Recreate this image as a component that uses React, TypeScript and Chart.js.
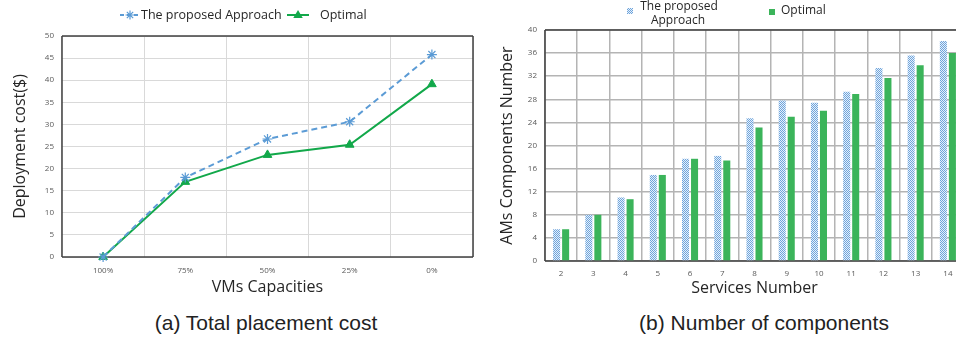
import React, { useEffect, useRef } from "react";
import { Chart, registerables } from "chart.js";

Chart.register(...registerables);

// ---------- Data ----------
const capacityLabels = ["100%", "75%", "50%", "25%", "0%"];
const proposedCost = [0, 18.0, 26.7, 30.6, 45.8];
const optimalCost = [0, 17.0, 23.1, 25.4, 39.1];

const serviceLabels = ["2", "3", "4", "5", "6", "7", "8", "9", "10", "11", "12", "13", "14"];
const proposedComponents = [5.5, 8.0, 11.0, 14.9, 17.7, 18.2, 24.7, 27.8, 27.4, 29.3, 33.4, 35.6, 38.1];
const optimalComponents = [5.5, 8.0, 10.7, 14.9, 17.7, 17.4, 23.1, 25.0, 26.0, 28.9, 31.7, 33.9, 36.0];

const seriesProposed = "The proposed Approach";
const seriesProposedLines = ["The proposed", "Approach"];
const seriesOptimal = "Optimal";

const captionA = "(a) Total placement cost";
const captionB = "(b) Number of components";

// ---------- Styles ----------
const BLUE = "#5b9bd5";
const GREEN_LINE = "#12a84a";
const GREEN_BAR = "#3bb45a";
const TICK_COLOR = "#595959";
const TITLE_COLOR = "#262626";
const FONT = "'Open Sans', 'Liberation Sans', sans-serif";

function drawStar(ctx: CanvasRenderingContext2D, x: number, y: number, r: number, color: string) {
  ctx.save();
  ctx.strokeStyle = color;
  ctx.lineWidth = 1.2;
  ctx.setLineDash([]);
  ctx.beginPath();
  ctx.moveTo(x - r, y); ctx.lineTo(x + r, y);
  ctx.moveTo(x, y - r); ctx.lineTo(x, y + r);
  const d = r * 0.7071;
  ctx.moveTo(x - d, y - d); ctx.lineTo(x + d, y + d);
  ctx.moveTo(x - d, y + d); ctx.lineTo(x + d, y - d);
  ctx.stroke();
  ctx.restore();
}

function drawTriangle(ctx: CanvasRenderingContext2D, x: number, y: number, r: number, color: string) {
  ctx.save();
  ctx.fillStyle = color;
  ctx.beginPath();
  ctx.moveTo(x, y - r);
  ctx.lineTo(x + r * 0.95, y + r * 0.6);
  ctx.lineTo(x - r * 0.95, y + r * 0.6);
  ctx.closePath();
  ctx.fill();
  ctx.restore();
}

function makePattern(): CanvasPattern | string {
  const c = document.createElement("canvas");
  c.width = 2;
  c.height = 2;
  const g = c.getContext("2d");
  if (!g) return BLUE;
  g.fillStyle = "#e6f0fa";
  g.fillRect(0, 0, 2, 2);
  g.fillStyle = "#6ea4dc";
  g.fillRect(0, 0, 1, 1);
  g.fillRect(1, 1, 1, 1);
  return g.createPattern(c, "repeat") || BLUE;
}

const framePlugin = (color: string, width: number, sides: string[]) => ({
  id: "frame",
  beforeDatasetsDraw(chart: any) {
    const { ctx, chartArea: a } = chart;
    ctx.save();
    ctx.strokeStyle = color;
    ctx.lineWidth = width;
    ctx.beginPath();
    if (sides.includes("top")) { ctx.moveTo(a.left, a.top); ctx.lineTo(a.right, a.top); }
    if (sides.includes("right")) { ctx.moveTo(a.right, a.top); ctx.lineTo(a.right, a.bottom); }
    if (sides.includes("bottom")) { ctx.moveTo(a.left, a.bottom); ctx.lineTo(a.right, a.bottom); }
    if (sides.includes("left")) { ctx.moveTo(a.left, a.top); ctx.lineTo(a.left, a.bottom); }
    ctx.stroke();
    ctx.restore();
  },
});

const leftLegendPlugin = {
  id: "leftLegend",
  afterDraw(chart: any) {
    const ctx: CanvasRenderingContext2D = chart.ctx;
    const y = 15;
    ctx.save();
    ctx.lineWidth = 2;
    ctx.strokeStyle = BLUE;
    ctx.setLineDash([4, 3]);
    ctx.beginPath();
    ctx.moveTo(120, y); ctx.lineTo(139, y);
    ctx.stroke();
    ctx.setLineDash([]);
    drawStar(ctx, 130, y, 4.5, BLUE);
    ctx.font = `12.5px ${FONT}`;
    ctx.fillStyle = TITLE_COLOR;
    ctx.textBaseline = "middle";
    ctx.textAlign = "left";
    ctx.fillText(seriesProposed, 141, y);
    ctx.strokeStyle = GREEN_LINE;
    ctx.beginPath();
    ctx.moveTo(287, y); ctx.lineTo(309, y);
    ctx.stroke();
    drawTriangle(ctx, 298, y, 5, GREEN_LINE);
    ctx.fillText(seriesOptimal, 320, y);
    ctx.restore();
  },
};

const rightLegendPlugin = (pattern: CanvasPattern | string) => ({
  id: "rightLegend",
  afterDraw(chart: any) {
    const ctx: CanvasRenderingContext2D = chart.ctx;
    ctx.save();
    ctx.fillStyle = pattern as any;
    ctx.fillRect(137, 8, 6, 6);
    ctx.fillStyle = GREEN_BAR;
    ctx.fillRect(279, 9, 6, 6);
    ctx.font = `12px ${FONT}`;
    ctx.fillStyle = TITLE_COLOR;
    ctx.textBaseline = "middle";
    ctx.textAlign = "center";
    ctx.fillText(seriesProposedLines[0], 189, 7);
    ctx.fillText(seriesProposedLines[1], 188, 21);
    ctx.textAlign = "left";
    ctx.fillText(seriesOptimal, 291, 11);
    ctx.restore();
  },
});

export default function App() {
  const leftRef = useRef<HTMLCanvasElement | null>(null);
  const rightRef = useRef<HTMLCanvasElement | null>(null);

  useEffect(() => {
    if (!leftRef.current || !rightRef.current) return;
    const pattern = makePattern();

    const left = new Chart(leftRef.current, {
      type: "line",
      data: {
        labels: capacityLabels,
        datasets: [
          {
            label: seriesProposed,
            data: proposedCost,
            borderColor: BLUE,
            backgroundColor: BLUE,
            borderWidth: 2,
            borderDash: [6, 4],
            pointStyle: "star",
            pointRadius: 5,
            pointBorderWidth: 1.2,
            pointBorderColor: BLUE,
            tension: 0,
            clip: false,
          },
          {
            label: seriesOptimal,
            data: optimalCost,
            borderColor: GREEN_LINE,
            backgroundColor: GREEN_LINE,
            borderWidth: 2,
            pointStyle: "triangle",
            pointRadius: 5,
            pointBorderWidth: 1,
            pointBackgroundColor: GREEN_LINE,
            tension: 0,
            clip: false,
          },
        ],
      },
      options: {
        responsive: false,
        animation: false,
        devicePixelRatio: 1,
        layout: { padding: { top: 36, right: 7, left: 0, bottom: 0 } },
        plugins: { legend: { display: false }, tooltip: { enabled: false } },
        scales: {
          x: {
            offset: true,
            grid: { offset: true, color: "#d9d9d9", drawTicks: false },
            border: { display: false },
            ticks: { font: { size: 8, family: FONT }, color: TICK_COLOR, padding: 9 },
            title: {
              display: true,
              text: "VMs Capacities",
              font: { size: 16, family: FONT },
              color: TITLE_COLOR,
              padding: { top: 0, bottom: 3 },
            },
            afterFit: (s: any) => { s.height = 43; },
          },
          y: {
            min: 0,
            max: 50,
            ticks: { stepSize: 5, font: { size: 8, family: FONT }, color: TICK_COLOR, padding: 8 },
            grid: { color: "#d9d9d9", drawTicks: false },
            border: { display: false },
            title: {
              display: true,
              text: "Deployment cost($)",
              font: { size: 16, family: FONT },
              color: TITLE_COLOR,
              padding: { top: 11, bottom: 0 },
            },
            afterFit: (s: any) => { s.width = 62; },
          },
        },
      },
      plugins: [framePlugin("#404040", 1.5, ["top", "right", "bottom", "left"]), leftLegendPlugin],
    } as any);

    const right = new Chart(rightRef.current, {
      type: "bar",
      data: {
        labels: serviceLabels,
        datasets: [
          {
            label: seriesProposed,
            data: proposedComponents,
            backgroundColor: pattern as any,
            borderWidth: 0,
            barPercentage: 0.78,
            categoryPercentage: 0.56,
          },
          {
            label: seriesOptimal,
            data: optimalComponents,
            backgroundColor: GREEN_BAR,
            borderWidth: 0,
            barPercentage: 0.78,
            categoryPercentage: 0.56,
          },
        ],
      },
      options: {
        responsive: false,
        animation: false,
        devicePixelRatio: 1,
        layout: { padding: { top: 30, right: 6, left: 0, bottom: 0 } },
        plugins: { legend: { display: false }, tooltip: { enabled: false } },
        scales: {
          x: {
            offset: true,
            grid: { offset: true, color: "#b4b4b4", lineWidth: 1.5, drawTicks: false },
            border: { display: false },
            ticks: { font: { size: 8, family: FONT }, color: TICK_COLOR, padding: 8 },
            title: {
              display: true,
              text: "Services Number",
              font: { size: 16, family: FONT },
              color: TITLE_COLOR,
              padding: { top: 0, bottom: 2 },
            },
            afterFit: (s: any) => { s.height = 39; },
          },
          y: {
            min: 0,
            max: 40,
            ticks: { stepSize: 4, font: { size: 8, family: FONT }, color: TICK_COLOR, padding: 8 },
            grid: { color: "#b4b4b4", lineWidth: 1.5, drawTicks: false },
            border: { display: false },
            title: {
              display: true,
              text: "AMs Components Number",
              font: { size: 16, family: FONT },
              color: TITLE_COLOR,
              padding: { top: 8, bottom: 0 },
            },
            afterFit: (s: any) => { s.width = 55; },
          },
        },
      },
      plugins: [framePlugin("#404040", 1.5, ["top", "bottom", "left"]), rightLegendPlugin(pattern)],
    } as any);

    return () => {
      left.destroy();
      right.destroy();
    };
  }, []);

  const captionStyle: React.CSSProperties = {
    position: "absolute",
    top: 308,
    width: 400,
    textAlign: "center",
    fontFamily: "'Liberation Sans', 'DejaVu Sans', sans-serif",
    fontSize: 21,
    lineHeight: "30px",
    color: "#222",
    whiteSpace: "nowrap",
  };

  return (
    <div
      style={{
        position: "absolute",
        left: 0,
        top: 0,
        width: 956,
        height: 339,
        overflow: "hidden",
        background: "#fff",
      }}
    >
      <canvas ref={leftRef} width={480} height={300} style={{ position: "absolute", left: 0, top: 0 }} />
      <canvas ref={rightRef} width={480} height={300} style={{ position: "absolute", left: 490, top: 0 }} />
      <div style={{ ...captionStyle, left: 266 - 200 }}>{captionA}</div>
      <div style={{ ...captionStyle, left: 764 - 200 }}>{captionB}</div>
    </div>
  );
}
